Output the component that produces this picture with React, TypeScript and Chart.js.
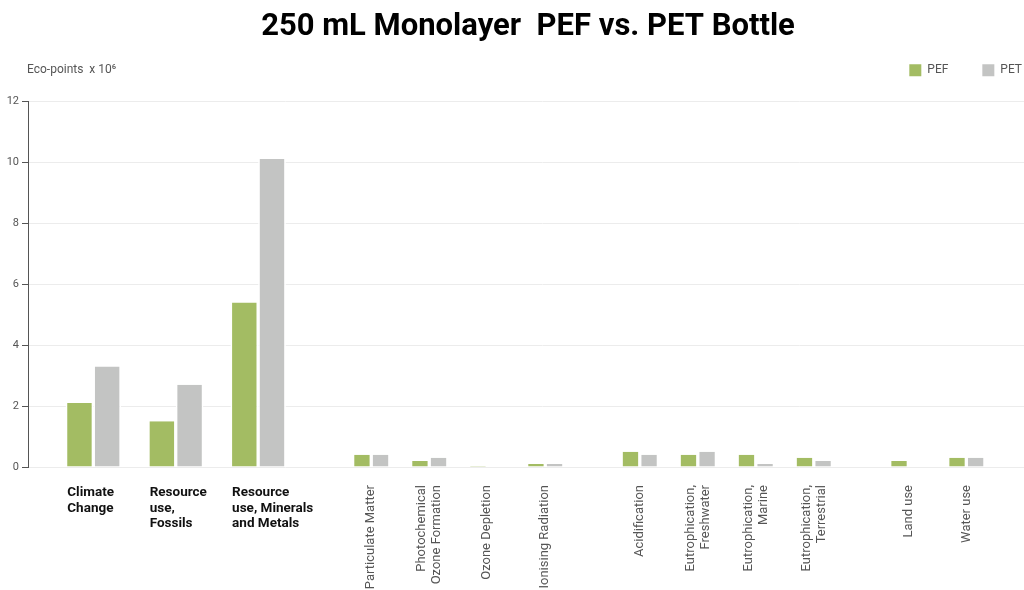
import React, { useEffect, useRef } from "react";
import { Chart, registerables } from "chart.js";

Chart.register(...registerables);

// ---------------- data ----------------
const chartTitle = "250 mL Monolayer  PEF vs. PET Bottle";
const unitLabel = "Eco-points  x 10⁶";
const seriesNames = ["PEF", "PET"];

const categories = [
  "Climate\nChange",
  "Resource\nuse,\nFossils",
  "Resource\nuse, Minerals\nand Metals",
  "Particulate Matter",
  "Photochemical\nOzone Formation",
  "Ozone Depletion",
  "Ionising Radiation",
  "Acidification",
  "Eutrophication,\nFreshwater",
  "Eutrophication,\nMarine",
  "Eutrophication,\nTerrestrial",
  "Land use",
  "Water use",
];
// 0 = headline impact categories, 1..3 = further impact groups
const categoryGroup = [0, 0, 0, 1, 1, 1, 1, 2, 2, 2, 2, 3, 3];

const pefValues = [2.1, 1.5, 5.4, 0.4, 0.2, 0.03, 0.1, 0.5, 0.4, 0.4, 0.3, 0.2, 0.3];
const petValues = [3.3, 2.7, 10.1, 0.4, 0.3, 0.02, 0.1, 0.4, 0.5, 0.1, 0.2, 0, 0.3];

const yTickValues = [0, 2, 4, 6, 8, 10, 12];

// ---------------- layout / style ----------------
const CANVAS_W = 1056;
const CANVAS_H = 590;
const FONT = "Roboto, 'Noto Sans', sans-serif";
const PEF_COLOR = "#a3bc63";
const PET_COLOR = "#c3c4c3";
const Y_AXIS_W = 28;
const PLOT_BOTTOM = 467;
const SLOT_PX = 58;
const X_MAX = (CANVAS_W - Y_AXIS_W) / SLOT_PX;
const LEAD = 1.126;
const SPACING_HEAD = 1.421;
const SPACING = 1;
const GAP_HEAD = 1.95;
const GAP = 1.63;
const LABEL_LINE_GAP = 15 / SLOT_PX;
const HEAD_BAR = 27.7;
const OTHER_BAR = 18.6;
const BAR_GAP = 1.65;

const slotPos: number[] = [];
categoryGroup.forEach((g, i) => {
  if (i === 0) {
    slotPos.push(LEAD);
    return;
  }
  const prev = categoryGroup[i - 1];
  const step = g !== prev ? (prev === 0 ? GAP_HEAD : GAP) : g === 0 ? SPACING_HEAD : SPACING;
  slotPos.push(slotPos[i - 1] + step);
});

const isHead = (i: number) => categoryGroup[i] === 0;
// boundary between the headline section and the rest (in slot units)
const lastHead = Math.max(...slotPos.filter((_, i) => isHead(i)));
const firstOther = Math.min(...slotPos.filter((_, i) => !isHead(i)));
const SPLIT = (lastHead + firstOther) / 2;

const headTicks = categories
  .map((c, i) => ({ value: slotPos[i], lines: c.split("\n"), head: isHead(i) }))
  .filter((t) => t.head);

const otherTicks: { value: number; text: string }[] = [];
categories.forEach((c, i) => {
  if (isHead(i)) return;
  const lines = c.split("\n");
  lines.forEach((line, j) => {
    otherTicks.push({ value: slotPos[i] + (j - (lines.length - 1) / 2) * LABEL_LINE_GAP, text: line });
  });
});

// side: -1 = left bar of the pair (PEF), +1 = right bar (PET)
const makeData = (values: number[], head: boolean, side: number) => {
  const half = (head ? HEAD_BAR : OTHER_BAR) / 2 / SLOT_PX;
  return values
    .map((v, i) => ({ x: slotPos[i] + side * half, y: v, keep: isHead(i) === head }))
    .filter((p) => p.keep)
    .map(({ x, y }) => ({ x, y }));
};

const barStyle = (color: string, thickness: number, axis: string) => ({
  backgroundColor: color,
  borderColor: "#ffffff",
  borderWidth: { left: BAR_GAP, right: BAR_GAP, top: 0, bottom: 0 },
  borderSkipped: false as const,
  inflateAmount: 0,
  barThickness: thickness,
  grouped: false,
  xAxisID: axis,
  yAxisID: "y",
});

const zeroPadding = (axis: any) => {
  axis.paddingLeft = 0;
  axis.paddingRight = 0;
};

const unitLabelPlugin = {
  id: "unitLabel",
  afterDraw(chart: any) {
    const { ctx, chartArea } = chart;
    const hb = chart.legend?.legendHitBoxes?.[0];
    const y = hb ? hb.top + hb.height / 2 : 70;
    ctx.save();
    ctx.font = `12px ${FONT}`;
    ctx.fillStyle = "#555";
    ctx.textAlign = "left";
    ctx.textBaseline = "middle";
    ctx.fillText(unitLabel, chartArea.left - 1, y);
    ctx.restore();
  },
};

export default function App() {
  const ref = useRef<HTMLCanvasElement>(null);

  useEffect(() => {
    if (!ref.current) return;
    Chart.defaults.font.family = FONT;
    const chart = new Chart(ref.current, {
      type: "bar",
      data: {
        datasets: [
          { label: seriesNames[0], data: makeData(pefValues, true, -1), ...barStyle(PEF_COLOR, HEAD_BAR, "xHead") },
          { label: seriesNames[1], data: makeData(petValues, true, 1), ...barStyle(PET_COLOR, HEAD_BAR, "xHead") },
          { label: seriesNames[0], data: makeData(pefValues, false, -1), ...barStyle(PEF_COLOR, OTHER_BAR, "x") },
          { label: seriesNames[1], data: makeData(petValues, false, 1), ...barStyle(PET_COLOR, OTHER_BAR, "x") },
        ] as any,
      },
      options: {
        responsive: false,
        animation: false,
        devicePixelRatio: 1,
        events: [],
        layout: { padding: 0 },
        plugins: {
          tooltip: { enabled: false },
          title: {
            display: true,
            text: chartTitle,
            color: "#000",
            font: { size: 31, weight: "bold", family: FONT, lineHeight: 1.2 },
            padding: { top: 9, bottom: -16 },
          },
          legend: {
            position: "top",
            align: "end",
            labels: {
              boxWidth: 12,
              boxHeight: 12,
              padding: 34,
              color: "#555",
              font: { size: 12, family: FONT },
              generateLabels: (c: any) =>
                (Chart.defaults.plugins.legend.labels as any)
                  .generateLabels(c)
                  .filter((it: any) => it.datasetIndex < 2)
                  .map((it: any) => ({ ...it, lineWidth: 0 })),
            },
          },
        },
        scales: {
          xHead: {
            type: "linear",
            position: "bottom",
            stack: "categories",
            stackWeight: SPLIT,
            weight: 0,
            offset: false,
            bounds: "data",
            min: 0,
            max: SPLIT,
            grid: { display: false, drawTicks: false },
            border: { display: false },
            afterBuildTicks: (axis: any) => {
              axis.ticks = headTicks.map((t) => ({ value: t.value }));
            },
            afterFit: (axis: any) => {
              axis.height = CANVAS_H - PLOT_BOTTOM;
              zeroPadding(axis);
            },
            ticks: {
              autoSkip: false,
              minRotation: 0,
              maxRotation: 0,
              align: "start",
              labelOffset: -(HEAD_BAR - BAR_GAP),
              padding: 18,
              color: "#111",
              font: { size: 13.5, weight: "bold", family: FONT, lineHeight: 1.15 },
              callback: (_v: any, i: number) => headTicks[i]?.lines ?? "",
            },
          },
          x: {
            type: "linear",
            position: "bottom",
            stack: "categories",
            stackWeight: X_MAX - SPLIT,
            weight: 1,
            offset: false,
            bounds: "data",
            min: SPLIT,
            max: X_MAX,
            grid: { display: false, drawTicks: false },
            border: { display: false },
            afterBuildTicks: (axis: any) => {
              axis.ticks = otherTicks.map((t) => ({ value: t.value }));
            },
            afterFit: (axis: any) => {
              axis.height = CANVAS_H - PLOT_BOTTOM;
              zeroPadding(axis);
            },
            ticks: {
              autoSkip: false,
              minRotation: 90,
              maxRotation: 90,
              padding: 18,
              color: "#555",
              font: { size: 13, family: FONT },
              callback: (_v: any, i: number) => otherTicks[i]?.text ?? "",
            },
          },
          spacer: {
            type: "linear",
            position: "top",
            display: true,
            offset: false,
            grid: { display: false, drawTicks: false },
            border: { display: false },
            ticks: { display: false },
            afterFit: (axis: any) => {
              axis.height = 15;
              zeroPadding(axis);
            },
          },
          y: {
            type: "linear",
            position: "left",
            min: yTickValues[0],
            max: yTickValues[yTickValues.length - 1],
            afterBuildTicks: (axis: any) => {
              axis.ticks = yTickValues.map((v) => ({ value: v }));
            },
            afterFit: (axis: any) => {
              axis.width = Y_AXIS_W;
            },
            ticks: { padding: 3, color: "#555", font: { size: 11, family: FONT } },
            grid: { color: "#ececec", tickColor: "#555", tickLength: 6 },
            border: { display: true, color: "#555", width: 1 },
          },
        } as any,
      },
      plugins: [unitLabelPlugin],
    } as any);
    return () => chart.destroy();
  }, []);

  return (
    <div
      style={{
        position: "fixed",
        left: 0,
        top: 0,
        width: 1024,
        height: 590,
        overflow: "hidden",
        background: "#fff",
      }}
    >
      <canvas ref={ref} width={CANVAS_W} height={CANVAS_H} style={{ display: "block" }} />
    </div>
  );
}
